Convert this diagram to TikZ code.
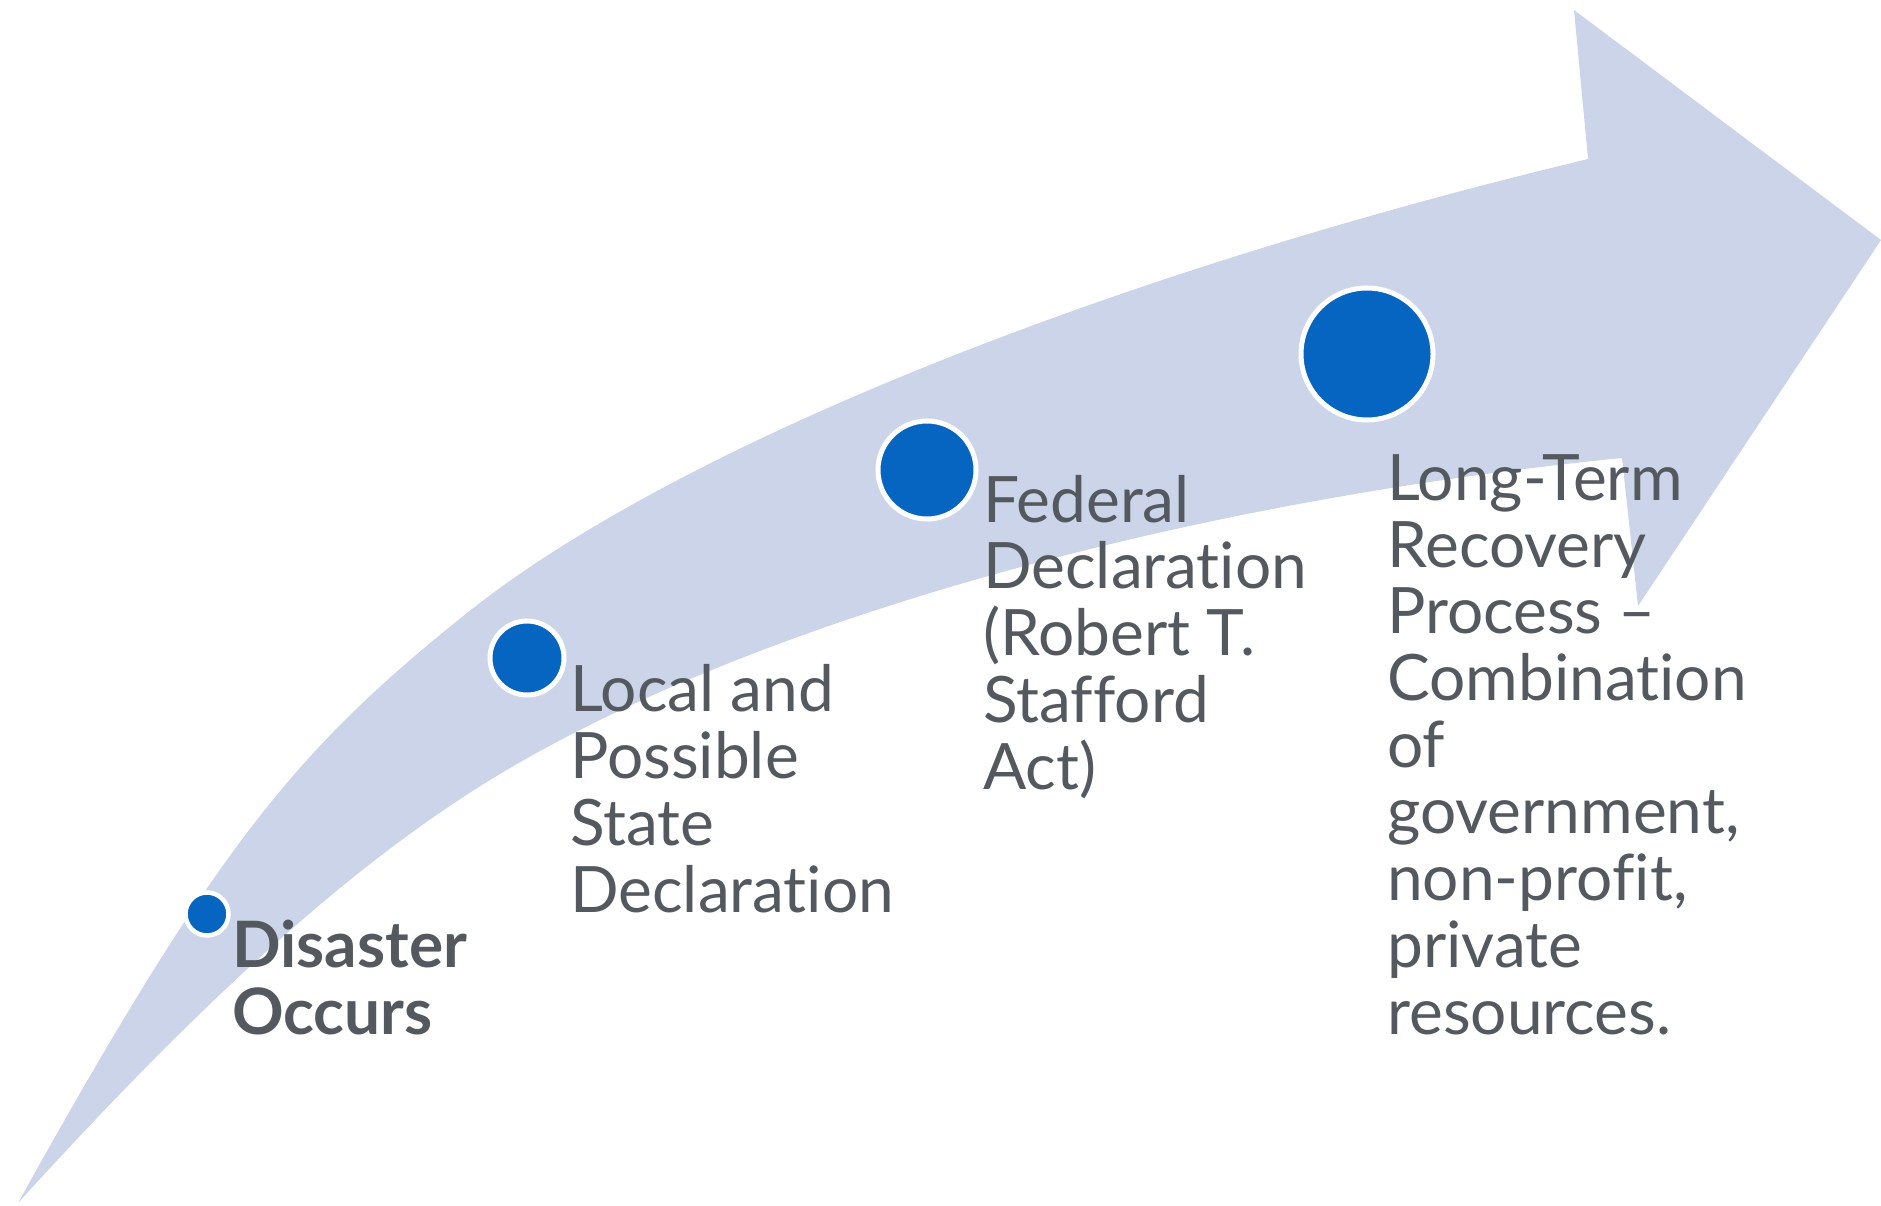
\documentclass[tikz,border=0pt]{standalone}
\usepackage{fontspec}
\setmainfont{Lato}[Ligatures=NoCommon]
\usepackage{tikz}
\usetikzlibrary{positioning}
\definecolor{bandblue}{RGB}{203,212,232}
\definecolor{dotblue}{RGB}{5,101,192}
\definecolor{txtgray}{RGB}{84,89,95}
\tikzset{
    milestone/.style={circle, fill=dotblue, draw=white, inner sep=0mm},
    stagetext/.style={anchor=base west, align=left, inner sep=0mm, text=txtgray,
        font=\fontsize{64}{66.7}\selectfont}
}
\begin{document}
\begin{tikzpicture}[x=1pt, y=-1pt]
    \useasboundingbox (0,0) rectangle (1881,1206);
    % curved band ending in the arrow head
    \fill[bandblue] (18,1203) .. controls (218,843) and (297,749) .. (467,613)
        .. controls (667,453) and (1088,279) .. (1588,159)
        -- (1574,10) -- (1881,240) -- (1638,606) -- (1622,458)
        .. controls (1172,503) and (750,624) .. (500,774)
        .. controls (350,864) and (198,1005) .. (18,1203) -- cycle;

    \node[milestone, minimum size=43pt, line width=4.5pt] (c1) at (207,914) {};
    \node[milestone, minimum size=74pt, line width=5pt] (c2) at (527,658) {};
    \node[milestone, minimum size=98pt, line width=5pt] (c3) at (927,470) {};
    \node[milestone, minimum size=132pt, line width=5pt] (c4) at (1367,354) {};

    % base west = baseline of the last line
    \node[stagetext, font=\fontsize{64}{66.7}\selectfont\bfseries] (t1) at (232,1034) {Disaster\\Occurs};
    \node[stagetext] (t2) at (570,912) {Local and\\Possible\\State\\Declaration};
    \node[stagetext] (t3) at (983,789) {Federal\\Declaration\\(Robert T.\\Stafford\\Act)};
    \node[stagetext] (t4) at (1387,1034) {Long-Term\\Recovery\\Process –\\Combination\\of\\government,\\non-profit,\\private\\resources.};
\end{tikzpicture}
\end{document}
